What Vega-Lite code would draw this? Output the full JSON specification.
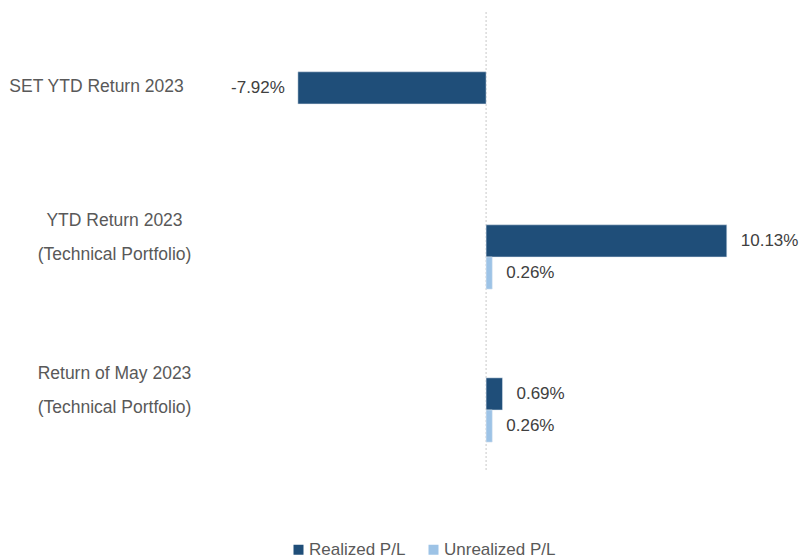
{
  "$schema": "https://vega.github.io/schema/vega-lite/v6.json",
  "width": 580,
  "height": 458,
  "autosize": {"type": "none"},
  "padding": {"left": 200, "top": 12, "right": 21, "bottom": 88},
  "background": "white",
  "config": {
    "view": {"stroke": null},
    "font": "Liberation Sans",
    "locale": {"number": {"decimal": ".", "thousands": ",", "grouping": [3], "currency": ["$", ""], "minus": "-"}}
  },
  "data": {"values": [
    {"category": "SET YTD Return 2023", "series": "Realized P/L", "value": -0.0792},
    {"category": "YTD Return 2023|(Technical Portfolio)", "series": "Realized P/L", "value": 0.1013},
    {"category": "YTD Return 2023|(Technical Portfolio)", "series": "Unrealized P/L", "value": 0.0026},
    {"category": "Return of May  2023|(Technical Portfolio)", "series": "Realized P/L", "value": 0.0069},
    {"category": "Return of May  2023|(Technical Portfolio)", "series": "Unrealized P/L", "value": 0.0026}
  ]},
  "layer": [
    {
      "data": {"values": [{"zero": 0}]},
      "mark": {"type": "rule", "color": "#c8c8c8", "strokeDash": [2, 2], "strokeWidth": 1},
      "encoding": {
        "x": {"field": "zero", "type": "quantitative", "scale": {"domain": [-0.1204, 0.1237], "nice": false, "zero": false}, "axis": null}
      }
    },
    {
      "mark": {"type": "bar", "stroke": "#dfe7ef", "strokeWidth": 0.5},
      "encoding": {
        "x": {"field": "value", "type": "quantitative", "scale": {"domain": [-0.1204, 0.1237], "nice": false, "zero": false}, "axis": null},
        "y": {
          "field": "category", "type": "nominal",
          "sort": ["SET YTD Return 2023", "YTD Return 2023|(Technical Portfolio)", "Return of May  2023|(Technical Portfolio)"],
          "scale": {"paddingInner": 0.58, "paddingOuter": 0.2865, "align": 0.682},
          "axis": {
            "title": null, "domain": false, "ticks": false, "tickSize": 0,
            "labelExpr": "split(datum.label, '|')",
            "labelAlign": "center", "labelBaseline": "middle",
            "labelPadding": {"condition": {"test": "datum.value == 'SET YTD Return 2023'", "value": 104}, "value": 86},
            "labelOffset": {"condition": {"test": "datum.value == 'SET YTD Return 2023'", "value": -17}, "value": -36},
            "labelLineHeight": 34, "labelLimit": 0,
            "labelFontSize": 17.5, "labelColor": "#595959", "labelFont": "Liberation Sans"
          }
        },
        "yOffset": {"field": "series", "type": "nominal", "scale": {"domain": ["Realized P/L", "Unrealized P/L"], "paddingInner": 0, "paddingOuter": 0}},
        "color": {
          "field": "series", "type": "nominal",
          "scale": {"domain": ["Realized P/L", "Unrealized P/L"], "range": ["#1F4E79", "#9DC3E6"]},
          "legend": {
            "title": null, "orient": "none", "direction": "horizontal", "legendX": 90, "legendY": 529,
            "symbolType": "square", "symbolSize": 100, "symbolStrokeWidth": 0,
            "labelFontSize": 17, "labelColor": "#595959", "labelFont": "Liberation Sans",
            "labelOffset": 2, "columnPadding": 19
          }
        }
      }
    },
    {
      "transform": [{"filter": "datum.value < 0"}],
      "mark": {"type": "text", "align": "right", "baseline": "middle", "dx": -13, "fontSize": 17, "color": "#404040", "font": "Liberation Sans"},
      "encoding": {
        "x": {"field": "value", "type": "quantitative", "scale": {"domain": [-0.1204, 0.1237], "nice": false, "zero": false}, "axis": null},
        "y": {"field": "category", "type": "nominal", "sort": ["SET YTD Return 2023", "YTD Return 2023|(Technical Portfolio)", "Return of May  2023|(Technical Portfolio)"]},
        "yOffset": {"field": "series", "type": "nominal"},
        "text": {"field": "value", "type": "quantitative", "format": ".2%"}
      }
    },
    {
      "transform": [{"filter": "datum.value >= 0"}],
      "mark": {"type": "text", "align": "left", "baseline": "middle", "dx": 14, "fontSize": 17, "color": "#404040", "font": "Liberation Sans"},
      "encoding": {
        "x": {"field": "value", "type": "quantitative", "scale": {"domain": [-0.1204, 0.1237], "nice": false, "zero": false}, "axis": null},
        "y": {"field": "category", "type": "nominal", "sort": ["SET YTD Return 2023", "YTD Return 2023|(Technical Portfolio)", "Return of May  2023|(Technical Portfolio)"]},
        "yOffset": {"field": "series", "type": "nominal"},
        "text": {"field": "value", "type": "quantitative", "format": ".2%"}
      }
    }
  ]
}
